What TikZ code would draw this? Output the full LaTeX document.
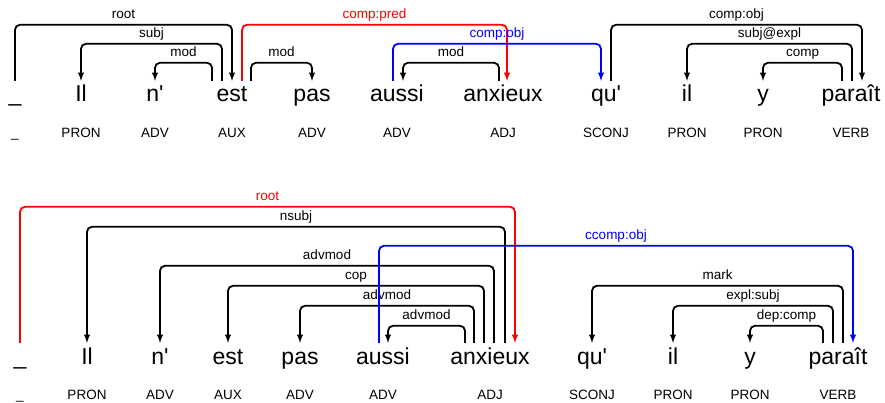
\documentclass[tikz,border=0pt]{standalone}
\usepackage{fontspec}
\setmainfont{Liberation Sans}
\usetikzlibrary{arrows,positioning}
\newcommand{\apos}{\textquotesingle}

\begin{document}
\begin{tikzpicture}[x=1pt,y=-1pt,
    word/.style={anchor=base,font=\fontsize{23}{23}\selectfont,text height=16pt,text depth=5pt,inner xsep=0pt,inner ysep=5pt},
    upos/.style={font=\fontsize{13.5}{14}\selectfont,text height=10pt,text depth=0pt,inner sep=0pt},
    lab/.style={anchor=base,yshift=6pt,inner sep=0pt,font=\fontsize{13.5}{14}\selectfont},
    dep/.style={->,>=latex,line width=1.8pt,rounded corners=5pt}]
    \useasboundingbox (0,0) rectangle (885,403);

    % first analysis
    \node[word] (t0) at (15,102) {\_};
    \node[word] (t1) at (81,102) {Il};
    \node[word] (t2) at (155,102) {n\apos};
    \node[word] (t3) at (232,102) {est};
    \node[word] (t4) at (312,102) {pas};
    \node[word] (t5) at (397,102) {aussi};
    \node[word] (t6) at (503,102) {anxieux};
    \node[word] (t7) at (606,102) {qu\apos};
    \node[word] (t8) at (687,102) {il};
    \node[word] (t9) at (763,102) {y};
    \node[word] (t10) at (851,102) {paraît};

    \node[upos,below=15pt of t0] (p0) {\_};
    \node[upos,below=15pt of t1] (p1) {PRON};
    \node[upos,below=15pt of t2] (p2) {ADV};
    \node[upos,below=15pt of t3] (p3) {AUX};
    \node[upos,below=15pt of t4] (p4) {ADV};
    \node[upos,below=15pt of t5] (p5) {ADV};
    \node[upos,below=15pt of t6] (p6) {ADJ};
    \node[upos,below=15pt of t7] (p7) {SCONJ};
    \node[upos,below=15pt of t8] (p8) {PRON};
    \node[upos,below=15pt of t9] (p9) {PRON};
    \node[upos,below=15pt of t10] (p10) {VERB};

    \draw[dep] (t0.north) -- ++(0,-56) -| node[lab,pos=.25] (troot) {root} (t3.north);
    \draw[dep] ([xshift=-10pt]t3.north) -- ++(0,-37) -| node[lab,pos=.25] (tsubj) {subj} (t1.north);
    \draw[dep] ([xshift=-20pt]t3.north) -- ++(0,-18) -| node[lab,pos=.25] (tmod1) {mod} (t2.north);
    \draw[dep] ([xshift=19pt]t3.north) -- ++(0,-18) -| node[lab,pos=.25] (tmod2) {mod} (t4.north);
    \draw[dep] ([xshift=-4pt]t6.north) -- ++(0,-18) -| node[lab,pos=.25] (tmod3) {mod} ([xshift=6pt]t5.north);
    \draw[dep] ([xshift=5pt]t7.north) -- ++(0,-56) -| node[lab,pos=.25] (tcobj) {comp:obj} ([xshift=11pt]t10.north);
    \draw[dep] ([xshift=1pt]t10.north) -- ++(0,-37) -| node[lab,pos=.25] (texpl) {subj@expl} (t8.north);
    \draw[dep] ([xshift=-9pt]t10.north) -- ++(0,-18) -| node[lab,pos=.25] (tcomp) {comp} (t9.north);
    \draw[dep,red] ([xshift=10pt]t3.north) -- ++(0,-56) -| node[lab,pos=.25] (tpred) {comp:pred} ([xshift=4pt]t6.north);
    \draw[dep,blue] ([xshift=-4pt]t5.north) -- ++(0,-37) -| node[lab,pos=.25] (tobj) {comp:obj} ([xshift=-5pt]t7.north);

    % second analysis
    \node[word] (b0) at (20,364) {\_};
    \node[word] (b1) at (87,364) {Il};
    \node[word] (b2) at (160,364) {n\apos};
    \node[word] (b3) at (228,364) {est};
    \node[word] (b4) at (300,364) {pas};
    \node[word] (b5) at (383,364) {aussi};
    \node[word] (b6) at (490,364) {anxieux};
    \node[word] (b7) at (592,364) {qu\apos};
    \node[word] (b8) at (673,364) {il};
    \node[word] (b9) at (750,364) {y};
    \node[word] (b10) at (838,364) {paraît};

    \node[upos,below=15pt of b0] (q0) {\_};
    \node[upos,below=15pt of b1] (q1) {PRON};
    \node[upos,below=15pt of b2] (q2) {ADV};
    \node[upos,below=15pt of b3] (q3) {AUX};
    \node[upos,below=15pt of b4] (q4) {ADV};
    \node[upos,below=15pt of b5] (q5) {ADV};
    \node[upos,below=15pt of b6] (q6) {ADJ};
    \node[upos,below=15pt of b7] (q7) {SCONJ};
    \node[upos,below=15pt of b8] (q8) {PRON};
    \node[upos,below=15pt of b9] (q9) {PRON};
    \node[upos,below=15pt of b10] (q10) {VERB};

    \draw[dep] ([xshift=15pt]b6.north) -- ++(0,-116) -| node[lab,pos=.25] (bnsubj) {nsubj} (b1.north);
    \draw[dep] ([xshift=4pt]b6.north) -- ++(0,-77) -| node[lab,pos=.25] (badv1) {advmod} (b2.north);
    \draw[dep] ([xshift=-6pt]b6.north) -- ++(0,-57) -| node[lab,pos=.25] (bcop) {cop} (b3.north);
    \draw[dep] ([xshift=-16pt]b6.north) -- ++(0,-37) -| node[lab,pos=.25] (badv2) {advmod} (b4.north);
    \draw[dep] ([xshift=-25pt]b6.north) -- ++(0,-17) -| node[lab,pos=.25] (badv3) {advmod} ([xshift=5pt]b5.north);
    \draw[dep] ([xshift=5pt]b10.north) -- ++(0,-57) -| node[lab,pos=.25] (bmark) {mark} (b7.north);
    \draw[dep] ([xshift=-5pt]b10.north) -- ++(0,-37) -| node[lab,pos=.25] (bexpl) {expl:subj} (b8.north);
    \draw[dep] ([xshift=-15pt]b10.north) -- ++(0,-17) -| node[lab,pos=.25] (bdep) {dep:comp} (b9.north);
    \draw[dep,red] (b0.north) -- ++(0,-136) -| node[lab,pos=.25] (broot) {root} ([xshift=25pt]b6.north);
    \draw[dep,blue] ([xshift=-4pt]b5.north) -- ++(0,-97) -| node[lab,pos=.25] (bccomp) {ccomp:obj} ([xshift=15pt]b10.north);

  \end{tikzpicture}
\end{document}
